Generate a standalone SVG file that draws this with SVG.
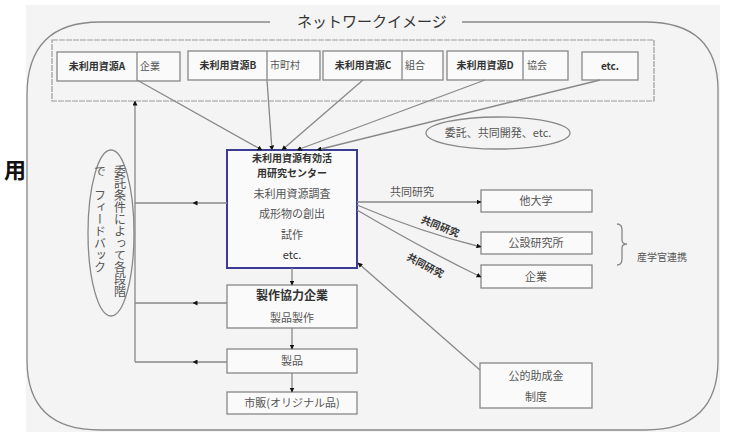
<svg xmlns="http://www.w3.org/2000/svg" width="734" height="432" viewBox="0 0 734 432">
<defs>
<style>
text{font-family:"Noto Sans CJK JP","Noto Sans",sans-serif;fill:#555}
.b{font-weight:bold;fill:#333}
.box{fill:#fafafa;stroke:#888;stroke-width:1.3}
.ln{fill:none;stroke:#888;stroke-width:1.3}
.s10{font-size:10px}
.s11{font-size:11px}
.s12{font-size:12px}
</style>
<marker id="ah" viewBox="0 0 10 10" refX="9" refY="5" markerWidth="5" markerHeight="5" orient="auto" markerUnits="userSpaceOnUse">
<path d="M0,0 L10,5 L0,10 Z" fill="#111"/>
</marker>
</defs>
<rect x="0" y="0" width="734" height="432" fill="#fff"/>
<rect x="26" y="5" width="694" height="427" fill="#f4f4f4"/>
<text x="4" y="178" style="font-size:22px;font-weight:bold;fill:#111">用</text>
<!-- outer rounded frame with title gap -->
<path class="ln" d="M270,22 H100 Q27,22 27,95 V360 Q27,430 100,430 H645 Q718,430 718,360 V90 Q718,22 645,22 H462" stroke="#999"/>
<text x="297" y="27" style="font-size:15px;fill:#333">ネットワークイメージ</text>
<!-- top container -->
<g id="resources">
<rect x="52" y="40" width="602" height="61" fill="none" stroke="#999" stroke-width="1.2" stroke-dasharray="6,1"/>
<g id="resA"><rect class="box" x="57" y="52" width="123" height="29"/><line class="ln" x1="137" y1="52" x2="137" y2="81"/><text class="b s10" x="97" y="70" text-anchor="middle">未利用資源A</text><text class="s10" x="150" y="70" text-anchor="middle">企業</text></g>
<g id="resB"><rect class="box" x="188" y="51" width="132" height="29"/><line class="ln" x1="267" y1="51" x2="267" y2="80"/><text class="b s10" x="228" y="69" text-anchor="middle">未利用資源B</text><text class="s10" x="285" y="69" text-anchor="middle">市町村</text></g>
<g id="resC"><rect class="box" x="323" y="51" width="120" height="29"/><line class="ln" x1="402" y1="51" x2="402" y2="80"/><text class="b s10" x="363" y="69" text-anchor="middle">未利用資源C</text><text class="s10" x="415" y="69" text-anchor="middle">組合</text></g>
<g id="resD"><rect class="box" x="447" y="51" width="121" height="29"/><line class="ln" x1="523" y1="51" x2="523" y2="80"/><text class="b s10" x="485" y="69" text-anchor="middle">未利用資源D</text><text class="s10" x="537" y="69" text-anchor="middle">協会</text></g>
<g id="resEtc"><rect class="box" x="582" y="52" width="56" height="28"/><text class="b s10" x="610" y="70" text-anchor="middle">etc.</text></g>
</g>
<g id="itaku"><ellipse cx="498" cy="133" rx="72" ry="16" fill="none" stroke="#888" stroke-width="1.3"/><text class="s11" x="498" y="137" text-anchor="middle">委託、共同開発、etc.</text></g>
<g id="feedback"><ellipse cx="111" cy="233" rx="23" ry="83" fill="none" stroke="#888" stroke-width="1.3"/>
<text class="s12" x="120" y="165" style="writing-mode:vertical-rl">委託条件によって各段階</text>
<text class="s12" x="100" y="165" style="writing-mode:vertical-rl">で　フィードバック</text></g>
<g id="center"><rect x="227" y="150" width="130" height="118" fill="#fafafa" stroke="#3c3c96" stroke-width="2"/>
<text class="b s10" x="292" y="162" text-anchor="middle">未利用資源有効活</text>
<text class="b s10" x="292" y="177" text-anchor="middle">用研究センター</text>
<text class="s11" x="292" y="198" text-anchor="middle">未利用資源調査</text>
<text class="s11" x="292" y="218" text-anchor="middle">成形物の創出</text>
<text class="s11" x="292" y="239" text-anchor="middle">試作</text>
<text class="s11" x="292" y="259" text-anchor="middle" style="fill:#333">etc.</text></g>
<g id="seisaku"><rect class="box" x="227" y="285" width="130" height="43"/><text class="b s12" x="292" y="300" text-anchor="middle">製作協力企業</text><text class="s11" x="292" y="322" text-anchor="middle">製品製作</text></g>
<g id="seihin"><rect class="box" x="227" y="349" width="130" height="24"/><text class="s11" x="292" y="365" text-anchor="middle">製品</text></g>
<g id="shihan"><rect class="box" x="227" y="392" width="130" height="22"/><text class="s11" x="292" y="407" text-anchor="middle">市販(オリジナル品)</text></g>
<g id="tadaigaku"><rect class="box" x="481" y="190" width="111" height="22"/><text class="s11" x="536" y="205" text-anchor="middle">他大学</text></g>
<g id="kousetsu"><rect class="box" x="481" y="232" width="111" height="22"/><text class="s11" x="536" y="247" text-anchor="middle">公設研究所</text></g>
<g id="kigyou"><rect class="box" x="481" y="265" width="111" height="23"/><text class="s11" x="536" y="281" text-anchor="middle">企業</text></g>
<g id="josei"><rect class="box" x="480" y="363" width="112" height="45"/><text class="s11" x="536" y="380" text-anchor="middle">公的助成金</text><text class="s11" x="536" y="401" text-anchor="middle">制度</text></g>
<g id="sangaku"><path class="ln" d="M617,224 Q622,224 622,230 V240 Q622,244 627,244 Q622,244 622,248 V259 Q622,265 617,265" stroke="#555"/><text class="s10" x="637" y="261">産学官連携</text></g>
<g id="connectors">
<line class="ln" x1="137" y1="80" x2="262" y2="150" marker-end="url(#ah)"/>
<line class="ln" x1="267" y1="80" x2="272" y2="150" marker-end="url(#ah)"/>
<line class="ln" x1="363" y1="80" x2="282" y2="150" marker-end="url(#ah)"/>
<line class="ln" x1="485" y1="80" x2="297" y2="150" marker-end="url(#ah)"/>
<line class="ln" x1="600" y1="80" x2="317" y2="150" marker-end="url(#ah)"/>
<polyline class="ln" points="227,203 193,203 135,203" marker-mid="url(#ah)"/>
<polyline class="ln" points="227,303 193,303 135,303" marker-mid="url(#ah)"/>
<polyline class="ln" points="227,362 193,362 135,362" marker-mid="url(#ah)"/>
<line class="ln" x1="135" y1="362" x2="135" y2="101" marker-end="url(#ah)"/>
<line class="ln" x1="292" y1="268" x2="292" y2="285" marker-end="url(#ah)"/>
<line class="ln" x1="292" y1="328" x2="292" y2="349" marker-end="url(#ah)"/>
<line class="ln" x1="292" y1="373" x2="292" y2="392" marker-end="url(#ah)"/>
<line class="ln" x1="357" y1="202" x2="481" y2="202" marker-end="url(#ah)"/>
<path class="ln" d="M357,205 Q420,232 481,247" marker-end="url(#ah)"/>
<path class="ln" d="M357,210 Q425,250 481,277" marker-end="url(#ah)"/>
<line class="ln" x1="480" y1="370" x2="358" y2="263" marker-end="url(#ah)"/>
<text class="s11" x="390" y="196">共同研究</text>
<text class="b s10" x="440" y="230" text-anchor="middle" transform="rotate(22 440 227)">共同研究</text>
<text class="b s10" x="425" y="269" text-anchor="middle" transform="rotate(28 425 266)">共同研究</text>
</g>
</svg>
